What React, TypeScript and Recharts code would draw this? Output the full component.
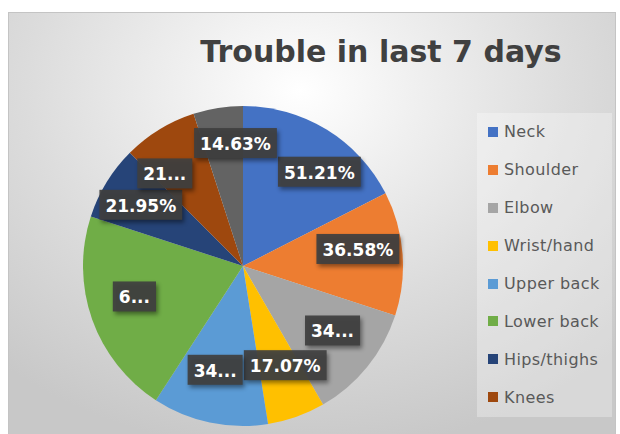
import React from 'react';
import { PieChart, Pie, Cell, Legend } from 'recharts';

const categories = ['Neck', 'Shoulder', 'Elbow', 'Wrist/hand', 'Upper back', 'Lower back', 'Hips/thighs', 'Knees', 'Ankles/feet'];
const values = [51.21, 36.58, 34.14, 17.07, 34.14, 60.97, 21.95, 21.95, 14.63];
const labelTexts = ['51.21%', '36.58%', '34...', '17.07%', '34...', '6...', '21.95%', '21...', '14.63%'];
const colors = ['#4472C4', '#ED7D31', '#A5A5A5', '#FFC000', '#5B9BD5', '#70AD47', '#264478', '#9E480E', '#636363'];
const legendVisibleCount = 8;
const title = 'Trouble in last 7 days';

const data = categories.map((name, i) => ({ name, value: values[i] }));

const RAD = Math.PI / 180;
let measureCtx: CanvasRenderingContext2D | null = null;
function measure(text: string, font: string): number {
  if (!measureCtx) {
    const c = document.createElement('canvas');
    measureCtx = c.getContext('2d');
  }
  if (!measureCtx) return text.length * 10;
  measureCtx.font = font;
  return measureCtx.measureText(text).width;
}

const LABEL_FONT = 'bold 17px "DejaVu Sans"';
const LABEL_H = 30;
const LABEL_GAP = 1;
const LABEL_RING = 0.72; // fraction of the outer radius
const LABEL_LIFT = 8; // the label ring sits slightly above the pie centre

// "Best fit" style label layout: start each label at the slice's mid angle,
// then spread overlapping neighbours apart along the ring.
type LabelBox = { x: number; y: number; w: number };
let layoutCache: { key: string; boxes: LabelBox[] } | null = null;

function layoutLabels(cx: number, cy: number, outerRadius: number, midAngles: number[]): LabelBox[] {
  const key = `${cx}-${cy}-${outerRadius}-${midAngles.join(',')}`;
  if (layoutCache && layoutCache.key === key) return layoutCache.boxes;
  const r = outerRadius * LABEL_RING;
  const ry = cy - LABEL_LIFT;
  const widths = labelTexts.map((t) => measure(t, LABEL_FONT) + 12);
  const ang = midAngles.map((m) => 90 - m);
  const pos = (a: number) => ({ x: cx + r * Math.sin(a * RAD), y: ry - r * Math.cos(a * RAD) });
  const n = ang.length;
  for (let iter = 0; iter < 400; iter++) {
    let moved = false;
    for (let i = 0; i < n; i++) {
      const j = (i + 1) % n;
      const pi = pos(ang[i]);
      const pj = pos(ang[j]);
      const ox = (widths[i] + widths[j]) / 2 + LABEL_GAP - Math.abs(pi.x - pj.x);
      const oy = LABEL_H + LABEL_GAP - Math.abs(pi.y - pj.y);
      if (ox > 0 && oy > 0) {
        ang[i] -= 0.25;
        ang[j] += 0.25;
        moved = true;
      }
    }
    if (!moved) break;
  }
  const boxes = ang.map((a, i) => ({ ...pos(a), w: widths[i] }));
  layoutCache = { key, boxes };
  return boxes;
}

function midAnglesFromValues(): number[] {
  const total = values.reduce((s, v) => s + v, 0);
  let acc = 0;
  return values.map((v) => {
    const start = acc;
    acc += v;
    const midCw = ((start + v / 2) / total) * 360;
    return 90 - midCw;
  });
}

function renderLabel(props: any) {
  const { cx, cy, outerRadius, index } = props;
  const boxes = layoutLabels(cx, cy, outerRadius, midAnglesFromValues());
  const { x, y, w } = boxes[index];
  const text = labelTexts[index];
  return (
    <g key={`lbl-${index}`}>
      <rect
        x={x - w / 2}
        y={y - LABEL_H / 2}
        width={w}
        height={LABEL_H}
        fill="#404040"
        fillOpacity={0.93}
        style={{ filter: 'drop-shadow(2px 3px 2px rgba(0,0,0,0.45))' }}
      />
      <text
        x={x}
        y={y + 1}
        textAnchor="middle"
        dominantBaseline="central"
        fill="#ffffff"
        fontFamily="DejaVu Sans"
        fontWeight="bold"
        fontSize={17}
      >
        {text}
      </text>
    </g>
  );
}

function renderLegend() {
  const items = categories.slice(0, legendVisibleCount);
  return (
    <div
      style={{
        width: 135,
        height: 304,
        background: 'rgba(255,255,255,0.3)',
        boxSizing: 'border-box',
      }}
    >
      {items.map((name, i) => (
        <div
          key={name}
          style={{
            height: 37.9,
            display: 'flex',
            alignItems: 'center',
            paddingLeft: 11,
          }}
        >
          <span style={{ width: 10, height: 10, background: colors[i], display: 'inline-block', marginRight: 6 }} />
          <span
            style={{
              fontFamily: '"DejaVu Sans"',
              fontSize: 16,
              letterSpacing: 0.4,
              color: '#595959',
              whiteSpace: 'nowrap',
            }}
          >
            {name}
          </span>
        </div>
      ))}
    </div>
  );
}

export default function App() {
  return (
    <div style={{ position: 'absolute', left: 0, top: 0, width: 620, height: 434, overflow: 'hidden', background: '#ffffff' }}>
      <style>{`.recharts-pie-sectors{filter:drop-shadow(0px 2px 5px rgba(0,0,0,0.28));}`}</style>
      <div
        style={{
          position: 'absolute',
          left: 8,
          top: 12,
          width: 608,
          height: 430,
          boxSizing: 'border-box',
          border: '1px solid #c4c4c4',
          background:
            'radial-gradient(ellipse 75% 85% at 48% 18%, #ffffff 0%, #f0f0f0 25%, #dcdcdc 60%, #c8c8c8 100%)',
        }}
      />
      <svg width={620} height={434} style={{ position: 'absolute', left: 0, top: 0 }}>
        <text
          x={381}
          y={62}
          textAnchor="middle"
          fontFamily="DejaVu Sans"
          fontWeight="bold"
          fontSize={30}
          fill="#404040"
        >
          {title}
        </text>
      </svg>
      <div style={{ position: 'absolute', left: 0, top: 0 }}>
        <PieChart width={620} height={434} margin={{ top: 0, right: 0, bottom: 0, left: 0 }}>
          <Pie
            data={data}
            dataKey="value"
            nameKey="name"
            cx={243}
            cy={266}
            outerRadius={160}
            startAngle={90}
            endAngle={-270}
            stroke="none"
            labelLine={false}
            label={renderLabel}
            isAnimationActive={false}
          >
            {data.map((_, i) => (
              <Cell key={i} fill={colors[i]} />
            ))}
          </Pie>
          <Legend
            layout="vertical"
            align="right"
            verticalAlign="top"
            content={renderLegend}
            wrapperStyle={{ left: 477, top: 113, width: 135, height: 304 }}
          />
        </PieChart>
      </div>
    </div>
  );
}
